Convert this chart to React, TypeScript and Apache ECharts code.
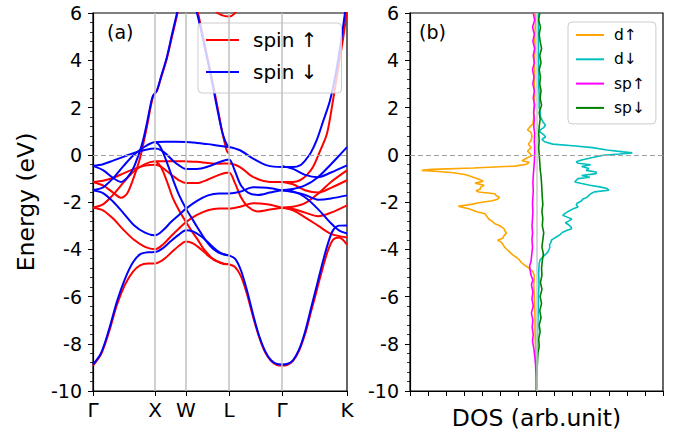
import React, { useEffect, useRef } from 'react';
import * as echarts from 'echarts';

const FONT = 'DejaVu Sans';

// high-symmetry path (k in path units)
const kTicks = [0, 62, 93, 136, 189, 254];
const kLabels = ['Γ', 'X', 'W', 'L', 'Γ', 'K'];

// ---- spin up (red) bands: [k, E]
const up1 = [[0,-8.92],[8,-8.45],[16,-7.5],[24,-6.35],[32,-5.5],[40,-4.95],[47,-4.68],[55,-4.6],[62,-4.6],[70,-4.45],[78,-4.15],[86,-3.85],[93,-3.67],[100,-3.75],[108,-4.0],[116,-4.3],[124,-4.5],[130,-4.6],[136,-4.64],[142,-4.75],[148,-5.15],[154,-5.9],[160,-6.85],[166,-7.7],[172,-8.35],[178,-8.72],[184,-8.9],[189,-8.92],[194,-8.9],[200,-8.72],[206,-8.3],[212,-7.6],[218,-6.65],[224,-5.7],[230,-4.75],[235,-4.05],[240,-3.6],[246,-3.5],[254,-3.8]];
const up2 = [[0,-2.24],[10,-2.35],[20,-2.7],[31,-3.2],[41,-3.6],[52,-3.9],[62,-4.0],[70,-3.8],[78,-3.45],[86,-3.12],[93,-2.85],[104,-2.55],[115,-2.35],[126,-2.28],[136,-2.28],[147,-2.2],[160,-2.05],[174,-2.1],[189,-2.24],[200,-2.35],[212,-2.65],[225,-3.0],[238,-3.35],[254,-3.5]];
const up3 = [[0,-2.24],[10,-2.1],[20,-1.7],[31,-1.15],[41,-0.7],[52,-0.4],[62,-0.28],[72,-0.27],[83,-0.27],[93,-0.28],[104,-0.3],[115,-0.35],[126,-0.38],[136,-0.37],[147,-0.52],[160,-0.94],[177,-1.15],[189,-1.15],[200,-1.15],[207,-1.08],[214,-0.85],[220,-0.52],[227,0.15],[234,0.9],[240,2.3],[245,3.6],[250,4.9],[254,6.1]];
const up4 = [[0,-1.15],[10,-1.1],[20,-0.98],[31,-0.78],[41,-0.6],[52,-0.46],[62,-0.42],[68,-0.5],[74,-0.7],[80,-0.9],[86,-1.08],[93,-1.2],[104,-1.2],[115,-1.05],[126,-0.85],[136,-0.75],[142,-1.2],[148,-1.8],[155,-2.2],[165,-2.4],[177,-2.32],[189,-2.24],[200,-2.2],[212,-2.05],[225,-1.65],[238,-1.15],[254,-0.66]];
const up5 = [[62,-0.28],[66,-0.4],[70,-0.7],[75,-1.25],[80,-1.85],[86,-2.35],[93,-2.85],[99,-3.25],[104,-3.55],[110,-3.95],[115,-4.2],[120,-4.42],[126,-4.55],[131,-4.62],[136,-4.64]];
const up6 = [[0,-1.15],[10,-1.3],[20,-1.6],[28,-1.82],[34,-1.65],[40,-1.05],[46,-0.3],[50,0.4],[54,1.2],[58,2.1],[60,2.45],[62,2.6],[64,2.72],[68,3.25],[74,4.1],[79,5.0],[84,5.9],[88,6.7],[93,7.4],[98,7.2],[105,6.0],[112,4.6],[119,3.2],[125,1.9],[129,1.0],[132,0.45],[134,0.15],[136,0.05]];
const up7 = [[116,6.5],[122,6.1],[128,5.92],[136,5.85],[141,5.95],[146,6.3]];
const upK1 = [[189,-1.15],[200,-1.25],[212,-1.5],[225,-1.6],[238,-1.4],[254,-1.08]];
const upK2 = [[189,-2.24],[200,-2.3],[212,-2.45],[225,-2.6],[238,-2.45],[254,-2.14]];

// ---- spin down (blue) bands: [k, E]
const dn1 = [[0,-8.88],[8,-8.4],[16,-7.4],[24,-6.2],[32,-5.25],[40,-4.55],[47,-4.22],[55,-4.13],[62,-4.12],[70,-3.95],[78,-3.65],[86,-3.38],[93,-3.2],[100,-3.25],[108,-3.45],[116,-3.75],[124,-4.05],[130,-4.2],[136,-4.26],[142,-4.4],[148,-4.9],[154,-5.75],[160,-6.75],[166,-7.65],[172,-8.3],[178,-8.7],[184,-8.86],[189,-8.88],[194,-8.86],[200,-8.7],[206,-8.25],[212,-7.5],[218,-6.5],[224,-5.5],[230,-4.5],[235,-3.75],[240,-3.2],[246,-3.0],[254,-2.99]];
const dn2 = [[0,-1.5],[10,-1.62],[20,-1.98],[31,-2.5],[41,-2.98],[52,-3.3],[62,-3.41],[70,-3.2],[78,-2.85],[86,-2.55],[93,-2.28],[104,-1.95],[115,-1.72],[126,-1.64],[136,-1.64],[147,-1.57],[160,-1.38],[174,-1.4],[189,-1.5],[200,-1.55],[212,-1.8],[225,-2.3],[238,-2.9],[246,-3.2],[254,-3.33]];
const dn3 = [[0,-1.5],[10,-1.38],[20,-1.0],[31,-0.45],[41,0.0],[52,0.35],[62,0.54],[72,0.55],[83,0.55],[93,0.54],[104,0.5],[115,0.45],[126,0.38],[136,0.33],[147,0.19],[160,-0.16],[174,-0.45],[189,-0.52],[200,-0.52],[207,-0.45],[213,-0.2],[218,0.1],[224,0.65],[230,1.4],[237,2.3],[243,3.5],[248,4.8],[252,6.0],[254,6.6]];
const dn4 = [[0,-0.47],[10,-0.4],[20,-0.25],[31,-0.08],[41,0.08],[52,0.2],[62,0.26],[68,0.2],[74,0.0],[80,-0.25],[86,-0.45],[93,-0.6],[104,-0.6],[115,-0.5],[126,-0.32],[136,-0.2],[142,-0.7],[148,-1.3],[155,-1.6],[165,-1.7],[177,-1.6],[189,-1.5],[200,-1.45],[212,-1.3],[225,-0.95],[238,-0.4],[247,0.0],[254,0.32]];
const dn5 = [[62,0.54],[66,0.42],[70,0.1],[75,-0.45],[80,-1.05],[86,-1.7],[93,-2.28],[99,-2.7],[104,-3.05],[110,-3.45],[115,-3.75],[120,-3.98],[126,-4.15],[131,-4.22],[136,-4.26]];
const dn6 = [[0,-0.47],[10,-0.65],[20,-0.98],[28,-1.15],[34,-0.98],[40,-0.6],[46,0.05],[50,0.6],[54,1.35],[58,2.2],[60,2.5],[62,2.6],[64,2.72],[68,3.3],[74,4.15],[79,5.1],[84,6.0],[88,6.8],[93,7.5],[97,7.0],[104,6.0],[111,4.7],[118,3.3],[124,2.0],[129,1.0],[132,0.6],[134,0.42],[136,0.33]];
const dnK1 = [[189,-0.47],[200,-0.6],[212,-0.85],[225,-0.95],[238,-0.75],[254,-0.45]];
const dnK2 = [[189,-1.5],[200,-1.58],[212,-1.7],[225,-1.9],[238,-1.85],[254,-1.72]];

// ---- projected DOS: [E, DOS]
const dUp = [[6,-0.08],[5.5,-0.06],[5,-0.1],[4.5,-0.08],[4,-0.12],[3.5,-0.1],[3,-0.12],[2.5,-0.1],[2,-0.15],[1.6,-0.15],[1.3,-0.2],[1.2,-0.35],[1.05,-0.5],[0.95,-0.3],[0.8,-0.25],[0.6,-0.3],[0.45,-0.45],[0.3,-0.3],[0.15,-0.5],[0.05,-0.35],[-0.05,-0.3],[-0.15,-0.55],[-0.25,-0.8],[-0.32,-0.4],[-0.4,-0.55],[-0.48,-1.2],[-0.56,-3.5],[-0.62,-5.8],[-0.66,-6.35],[-0.7,-5.6],[-0.76,-4.6],[-0.85,-3.9],[-0.95,-3.5],[-1.05,-3.15],[-1.12,-2.95],[-1.2,-3.4],[-1.29,-2.9],[-1.38,-3.1],[-1.45,-3.1],[-1.52,-3.35],[-1.58,-3.2],[-1.65,-2.3],[-1.72,-2.25],[-1.8,-2.05],[-1.88,-2.15],[-1.95,-2.45],[-2.03,-3.2],[-2.1,-3.6],[-2.18,-4.33],[-2.24,-4.0],[-2.3,-3.7],[-2.4,-3.35],[-2.5,-2.85],[-2.6,-2.75],[-2.72,-2.65],[-2.82,-2.45],[-2.92,-2.3],[-3.02,-2.0],[-3.13,-1.8],[-3.22,-1.75],[-3.32,-1.66],[-3.42,-1.8],[-3.52,-1.85],[-3.62,-2.15],[-3.7,-1.95],[-3.8,-1.85],[-3.9,-1.78],[-4.0,-1.65],[-4.12,-1.48],[-4.25,-1.3],[-4.35,-1.1],[-4.45,-0.95],[-4.55,-0.85],[-4.65,-0.7],[-4.75,-0.5],[-4.85,-0.35],[-4.95,-0.2],[-5.1,-0.12],[-5.5,-0.15],[-6,-0.12],[-6.5,-0.1],[-7,-0.08],[-7.5,-0.08],[-8,-0.06],[-8.5,-0.04],[-9,-0.03],[-9.5,-0.01],[-10,0]];
const dDn = [[6,0.1],[5,0.1],[4,0.12],[3,0.12],[2.5,0.15],[2,0.15],[1.8,0.2],[1.6,0.22],[1.4,0.35],[1.25,0.5],[1.15,0.4],[1.05,0.2],[0.97,0.18],[0.85,0.4],[0.75,0.5],[0.65,0.3],[0.55,0.45],[0.45,0.9],[0.38,2.0],[0.3,3.1],[0.2,3.9],[0.12,4.8],[0.08,5.3],[0.03,4.6],[-0.02,3.7],[-0.12,3.1],[-0.22,2.5],[-0.3,2.2],[-0.36,2.3],[-0.42,3.0],[-0.5,2.5],[-0.58,2.9],[-0.66,2.75],[-0.73,3.3],[-0.8,3.3],[-0.88,2.5],[-0.95,2.95],[-1.01,2.3],[-1.08,2.2],[-1.15,2.12],[-1.22,2.5],[-1.29,2.95],[-1.36,3.5],[-1.43,3.9],[-1.5,4.0],[-1.57,3.2],[-1.65,3.0],[-1.72,2.9],[-1.8,2.8],[-1.88,2.55],[-1.95,2.5],[-2.05,2.25],[-2.12,2.2],[-2.21,2.3],[-2.3,2.0],[-2.4,1.75],[-2.5,1.55],[-2.56,1.45],[-2.64,1.7],[-2.72,1.95],[-2.8,1.8],[-2.88,1.6],[-2.95,1.75],[-3.05,1.9],[-3.13,1.95],[-3.2,1.7],[-3.28,1.45],[-3.38,1.3],[-3.48,1.1],[-3.55,0.95],[-3.62,0.82],[-3.72,0.8],[-3.8,0.72],[-3.9,0.74],[-4.0,0.7],[-4.12,0.62],[-4.22,0.5],[-4.33,0.35],[-4.45,0.2],[-4.6,0.15],[-5,0.12],[-5.5,0.14],[-6,0.1],[-6.5,0.1],[-7,0.08],[-7.5,0.06],[-8,0.05],[-8.5,0.04],[-9,0.02],[-9.5,0.01],[-10,0]];
const spUp = [[6,-0.18],[5.7,-0.1],[5.4,-0.22],[5.1,-0.12],[4.8,-0.2],[4.5,-0.1],[4.2,-0.18],[3.9,-0.12],[3.6,-0.22],[3.3,-0.14],[3.0,-0.2],[2.7,-0.12],[2.4,-0.18],[2.1,-0.1],[1.8,-0.16],[1.5,-0.12],[1.2,-0.15],[0.9,-0.1],[0.6,-0.12],[0.3,-0.1],[0,-0.1],[-0.3,-0.12],[-0.6,-0.15],[-0.9,-0.18],[-1.2,-0.2],[-1.5,-0.18],[-1.8,-0.2],[-2.1,-0.22],[-2.4,-0.2],[-2.7,-0.22],[-3.0,-0.25],[-3.3,-0.22],[-3.6,-0.25],[-3.9,-0.22],[-4.2,-0.26],[-4.5,-0.3],[-4.7,-0.38],[-4.9,-0.35],[-5.1,-0.3],[-5.3,-0.2],[-5.5,-0.28],[-5.8,-0.2],[-6.1,-0.25],[-6.4,-0.18],[-6.7,-0.28],[-7.0,-0.2],[-7.3,-0.24],[-7.6,-0.18],[-7.9,-0.22],[-8.2,-0.15],[-8.5,-0.1],[-8.8,-0.06],[-9.2,-0.03],[-9.6,-0.01],[-10,0]];
const spDn = [[6,0.18],[5.7,0.12],[5.4,0.22],[5.1,0.15],[4.8,0.2],[4.5,0.28],[4.2,0.18],[3.9,0.25],[3.6,0.15],[3.3,0.22],[3.0,0.18],[2.7,0.25],[2.4,0.2],[2.1,0.28],[1.8,0.15],[1.5,0.2],[1.2,0.15],[0.9,0.12],[0.6,0.15],[0.3,0.12],[0,0.15],[-0.3,0.18],[-0.6,0.2],[-0.9,0.25],[-1.2,0.28],[-1.5,0.3],[-1.8,0.32],[-2.1,0.35],[-2.4,0.3],[-2.7,0.35],[-3.0,0.32],[-3.3,0.4],[-3.6,0.35],[-3.9,0.3],[-4.2,0.38],[-4.5,0.32],[-4.8,0.28],[-5.1,0.3],[-5.4,0.22],[-5.7,0.3],[-6.0,0.2],[-6.3,0.28],[-6.6,0.18],[-6.9,0.25],[-7.2,0.15],[-7.5,0.2],[-7.8,0.12],[-8.1,0.15],[-8.4,0.08],[-8.8,0.05],[-9.2,0.03],[-9.6,0.01],[-10,0]];

const RED = '#ff0000';
const BLUE = '#0000ff';

function bandSeries(data: number[][], name: string, color: string) {
  return {
    type: 'line', name, data, xAxisIndex: 0, yAxisIndex: 0,
    smooth: 0.3, symbol: 'none', showSymbol: false, clip: true, silent: true, z: 3,
    lineStyle: { color, width: 2 }, itemStyle: { color },
  };
}

function dosSeries(data: number[][], name: string, color: string) {
  return {
    type: 'line', name, data: data.map(([e, d]) => [d, e]), xAxisIndex: 1, yAxisIndex: 1,
    symbol: 'none', showSymbol: false, clip: true, silent: true, z: 3,
    lineStyle: { color, width: 1.6 }, itemStyle: { color },
  };
}

const hiddenSymbol = { color: 'rgba(0,0,0,0)', borderColor: 'rgba(0,0,0,0)', borderWidth: 0, opacity: 0 };

export default function App() {
  const ref = useRef<HTMLDivElement>(null);
  useEffect(() => {
    document.body.style.margin = '0';
    const chart = echarts.init(ref.current!, null, { renderer: 'svg' });
    const yAxisBase = {
      type: 'value', min: -10, max: 6, interval: 2,
      axisLine: { show: true, onZero: false, lineStyle: { color: '#000', width: 1.2 } },
      axisTick: { show: true, length: 5, lineStyle: { color: '#000', width: 1 } },
      minorTick: { show: true, splitNumber: 5, length: 3, lineStyle: { color: '#000', width: 0.8 } },
      splitLine: { show: false },
      axisLabel: { fontSize: 19, color: '#000', fontFamily: FONT, margin: 11 },
    };
    const guide = { color: '#c0c0c0', width: 1.5, type: 'solid' };
    const zeroLine = { color: '#a0a0a0', width: 1, type: [5, 3] };
    const option: any = {
      animation: false,
      textStyle: { fontFamily: FONT },
      grid: [
        { left: 93, top: 13, width: 254, height: 378, show: true, borderColor: '#000', borderWidth: 1.2, backgroundColor: 'transparent' },
        { left: 410, top: 13, width: 253, height: 378, show: true, borderColor: '#000', borderWidth: 1.2, backgroundColor: 'transparent' },
      ],
      xAxis: [
        {
          type: 'value', gridIndex: 0, min: 0, max: 254, position: 'bottom',
          axisLine: { show: true, onZero: false, lineStyle: { color: '#000', width: 1.2 } },
          axisTick: { show: true, length: 5, customValues: kTicks, lineStyle: { color: '#000', width: 1 } },
          axisLabel: {
            customValues: kTicks, fontSize: 20, color: '#000', fontFamily: FONT, margin: 9,
            formatter: (v: number) => { const i = kTicks.indexOf(v); return i >= 0 ? kLabels[i] : ''; },
          },
          splitLine: { show: false },
        },
        {
          type: 'value', gridIndex: 1, min: -7, max: 7, interval: 1, position: 'bottom',
          axisLine: { show: true, onZero: false, lineStyle: { color: '#000', width: 1.2 } },
          axisTick: { show: true, length: 5, lineStyle: { color: '#000', width: 1 } },
          axisLabel: { show: false },
          splitLine: { show: false },
          name: 'DOS (arb.unit)', nameLocation: 'middle', nameGap: 15,
          nameTextStyle: { fontSize: 23.5, color: '#000', fontFamily: FONT },
        },
      ],
      yAxis: [
        { ...yAxisBase, gridIndex: 0, position: 'left', name: 'Energy (eV)', nameLocation: 'middle', nameGap: 55,
          nameTextStyle: { fontSize: 23.5, color: '#000', fontFamily: FONT } },
        { ...yAxisBase, gridIndex: 1, position: 'left' },
      ],
      legend: [
        {
          data: ['spin ↑', 'spin ↓'], orient: 'vertical', left: 198, top: 23,
          padding: [6, 24, 10, 7], itemGap: 10, itemWidth: 33, itemHeight: 12,
          backgroundColor: 'rgba(255,255,255,0.8)', borderColor: '#cccccc', borderWidth: 1, borderRadius: 4,
          itemStyle: hiddenSymbol,
          textStyle: { fontSize: 20, lineHeight: 22, color: '#000', fontFamily: FONT, padding: [0, 0, 0, 9] },
          selectedMode: false,
        },
        {
          data: ['d↑', 'd↓', 'sp↑', 'sp↓'], orient: 'vertical', left: 568, top: 22,
          padding: [4, 11, 7, 7], itemGap: 6.3, itemWidth: 28, itemHeight: 10,
          backgroundColor: 'rgba(255,255,255,0.8)', borderColor: '#cccccc', borderWidth: 1, borderRadius: 4,
          itemStyle: hiddenSymbol,
          textStyle: { fontSize: 15.5, lineHeight: 18, color: '#000', fontFamily: FONT, padding: [0, 0, 0, 5] },
          selectedMode: false,
        },
      ],
      graphic: [
        { type: 'text', left: 107, top: 22, style: { text: '(a)', fontSize: 19, fill: '#000', fontFamily: FONT } },
        { type: 'text', left: 419, top: 22, style: { text: '(b)', fontSize: 19, fill: '#000', fontFamily: FONT } },
      ],
      series: [
        {
          type: 'line', data: [], xAxisIndex: 0, yAxisIndex: 0, z: 1, silent: true,
          markLine: {
            silent: true, symbol: ['none', 'none'], label: { show: false },
            data: [
              ...kTicks.slice(1, 5).map((v) => ({ xAxis: v, lineStyle: guide })),
              { yAxis: 0, lineStyle: zeroLine },
            ],
          },
        },
        {
          type: 'line', data: [], xAxisIndex: 1, yAxisIndex: 1, z: 1, silent: true,
          markLine: {
            silent: true, symbol: ['none', 'none'], label: { show: false },
            data: [
              { xAxis: 0, lineStyle: { color: '#c8c8c8', width: 1.5, type: 'solid' } },
              { yAxis: 0, lineStyle: zeroLine },
            ],
          },
        },
        ...[up1, up2, up3, up4, up5, up6, up7, upK1, upK2].map((d) => bandSeries(d, 'spin ↑', RED)),
        ...[dn1, dn2, dn3, dn4, dn5, dn6, dnK1, dnK2].map((d) => bandSeries(d, 'spin ↓', BLUE)),
        dosSeries(dUp, 'd↑', '#ffa500'),
        dosSeries(dDn, 'd↓', '#00bfbf'),
        dosSeries(spUp, 'sp↑', '#ff00ff'),
        dosSeries(spDn, 'sp↓', '#008000'),
      ],
    };
    chart.setOption(option);
    return () => chart.dispose();
  }, []);
  return <div ref={ref} style={{ width: 678, height: 437 }} />;
}
